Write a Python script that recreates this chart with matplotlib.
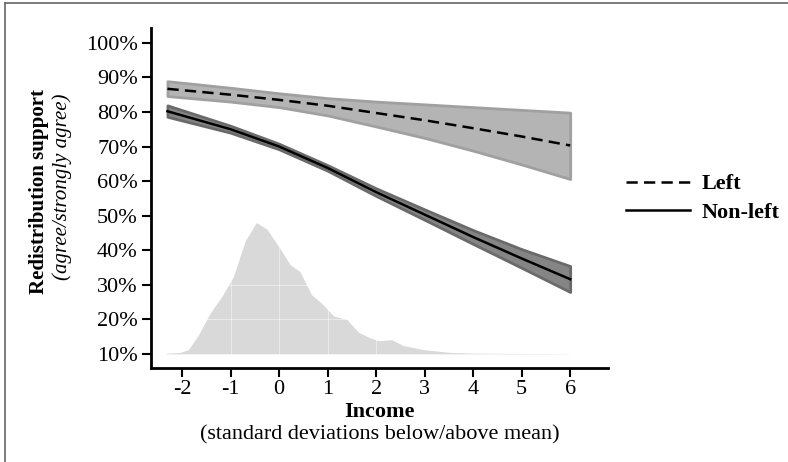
import matplotlib.pyplot as plt
from matplotlib.lines import Line2D

plt.rcParams['font.family'] = ['Liberation Serif', 'DejaVu Serif']

# predicted support (%) by income (sd from mean)
xs = [-2.3, -1, 0, 1, 2, 3, 4, 5, 6]
left_mid = [86.7, 85.0, 83.5, 81.8, 79.7, 77.6, 75.3, 72.9, 70.3]
left_hi = [88.9, 87.0, 85.4, 84.0, 83.0, 82.2, 81.4, 80.6, 79.8]
left_lo = [84.6, 83.0, 81.4, 79.0, 75.8, 72.5, 68.8, 64.8, 60.6]
nonleft_mid = [80.2, 75.0, 70.0, 63.8, 56.8, 50.3, 43.8, 37.6, 31.6]
nonleft_hi = [81.9, 76.0, 70.8, 64.6, 57.9, 51.8, 45.8, 40.3, 35.4]
nonleft_lo = [78.6, 74.0, 69.2, 63.0, 55.7, 48.8, 41.8, 34.9, 27.9]

# income distribution drawn on the same scale, baseline at 10%
dens_x = [-2.32, -2.04, -1.87, -1.66, -1.42, -1.18, -0.94, -0.70, -0.47, -0.25,
          -0.01, 0.23, 0.43, 0.67, 0.91, 1.12, 1.40, 1.64, 1.88, 2.05, 2.32,
          2.56, 2.98, 3.53, 4.0, 5.0, 6.0]
dens_y = [10.2, 10.4, 11.2, 15.5, 21.8, 26.6, 32.4, 42.6, 48.0, 46.1,
          41.1, 35.8, 33.8, 27.1, 24.2, 21.0, 19.9, 16.2, 14.6, 13.8, 14.1,
          12.4, 11.2, 10.4, 10.2, 10.1, 10.05]
base = 10

yticks = [10, 20, 30, 40, 50, 60, 70, 80, 90, 100]
xticks = [-2, -1, 0, 1, 2, 3, 4, 5, 6]

fig = plt.figure(figsize=(7.88, 4.62), dpi=100)
ax = fig.add_axes([0.1916, 0.2035, 0.58, 0.7359])

ax.fill_between(dens_x, base, dens_y, color='#d9d9d9', lw=0, zorder=1)
for t in xticks[1:5]:
    ax.axvline(t, color='white', alpha=0.45, lw=0.8, zorder=1.5)
for t in [20, 30]:
    ax.axhline(t, color='white', alpha=0.45, lw=0.8, zorder=1.5)

ax.fill_between(xs, left_lo, left_hi, facecolor='#b4b4b4', edgecolor='#a0a0a0',
                lw=2, zorder=3)
ax.fill_between(xs, nonleft_lo, nonleft_hi, facecolor='#858585', edgecolor='#6a6a6a',
                lw=2, zorder=3)
l1, = ax.plot(xs, left_mid, color='black', lw=1.8, dashes=(4.5, 2.5), zorder=4)
l2, = ax.plot(xs, nonleft_mid, color='black', lw=1.8, zorder=4)

ax.set_xlim(-2.64, 6.78)
ax.set_ylim(5.9, 104.3)
ax.set_xticks(xticks)
ax.set_xticklabels([str(t) for t in xticks])
ax.set_yticks(yticks)
ax.set_yticklabels([f'{t}%' for t in yticks])
ax.tick_params(labelsize=16, width=1.5, length=6.5, color='black', pad=3)
ax.tick_params(axis='x', pad=2)
for s in ['top', 'right']:
    ax.spines[s].set_visible(False)
for s in ['left', 'bottom']:
    ax.spines[s].set_linewidth(2)

fig.legend([l1, l2], ['Left', 'Non-left'], loc='center left',
           bbox_to_anchor=(0.794, 0.571), frameon=False, borderpad=0,
           borderaxespad=0, handlelength=2.9, handletextpad=0.5,
           labelspacing=0.35, prop={'weight': 'bold', 'size': 16})

fig.text(0.049, 0.585, 'Redistribution support', rotation=90, ha='center',
         va='center', fontsize=15, fontweight='bold')
fig.text(0.079, 0.595, '(agree/strongly agree)', rotation=90, ha='center',
         va='center', fontsize=15, style='italic')
fig.text(0.482, 0.108, 'Income', ha='center', va='center', fontsize=16,
         fontweight='bold')
fig.text(0.482, 0.058, '(standard deviations below/above mean)', ha='center',
         va='center', fontsize=16)

# frame lines on the left and top edges
fig.add_artist(Line2D([0.0065, 0.0065], [0, 0.993], color='#666666', lw=1.2))
fig.add_artist(Line2D([0.0065, 1], [0.993, 0.993], color='#666666', lw=1.2))

fig.savefig('out.png', dpi=100)
